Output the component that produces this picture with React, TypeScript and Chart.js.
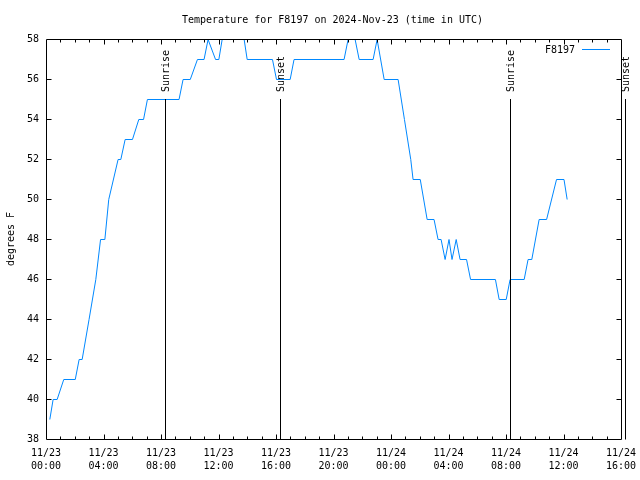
import React, { useEffect, useRef } from 'react';
import { Chart, registerables } from 'chart.js';

Chart.register(...registerables);

const TITLE = 'Temperature for F8197 on 2024-Nov-23 (time in UTC)';
const SERIES_LABEL = 'F8197';
const Y_TITLE = 'degrees F';
const FONT = '"DejaVu Sans Mono", "Liberation Mono", monospace';
const LINE_COLOR = 'rgb(0,136,255)';

// hours since 11/23 00:00 UTC
const hours = [
  0.23, 0.46, 0.74, 1.2, 2.0, 2.27, 2.48, 2.96, 3.43, 3.76, 4.06, 4.33, 4.98, 5.17,
  5.47, 5.98, 6.42, 6.75, 7.02, 9.22, 9.5, 10.0, 10.5, 10.96, 11.24, 11.76, 11.99,
  12.22, 12.5, 13.5, 13.75, 13.96, 15.72, 16.0, 16.95, 17.22, 20.7, 20.98, 21.22,
  21.47, 21.75, 22.72, 23.0, 23.49, 24.46, 24.9, 25.34, 25.5, 26.0, 26.48, 26.96,
  27.24, 27.45, 27.73, 28.0, 28.21, 28.5, 28.77, 29.22, 29.5, 31.23, 31.49, 31.98,
  32.25, 33.23, 33.5, 33.76, 34.27, 34.79, 35.48, 36.0, 36.22,
];
const tempF = [
  39, 40, 40, 41, 41, 42, 42, 44, 46, 48, 48, 50, 52, 52,
  53, 53, 54, 54, 55, 55, 56, 56, 57, 57, 58, 57, 57,
  58, 59, 59, 58, 57, 57, 56, 56, 57, 57, 58, 59,
  58, 57, 57, 58, 56, 56, 54, 52, 51, 51, 49, 49,
  48, 48, 47, 48, 47, 48, 47, 47, 46, 46, 45, 45,
  46, 46, 47, 47, 49, 49, 51, 51, 50,
];

const xTickDates = ['11/23', '11/23', '11/23', '11/23', '11/23', '11/23', '11/24', '11/24', '11/24', '11/24', '11/24'];
const xTickTimes = ['00:00', '04:00', '08:00', '12:00', '16:00', '20:00', '00:00', '04:00', '08:00', '12:00', '16:00'];

const eventHours = [8.27, 16.27, 32.27, 40.27];
const eventLabels = ['Sunrise', 'Sunset', 'Sunrise', 'Sunset'];
const eventTopValue = 55;

const gnuplotDecor = {
  id: 'gnuplotDecor',
  afterLayout(chart: any) {
    if (chart.titleBlock) {
      chart.titleBlock.left = 0;
      chart.titleBlock.right = 665;
    }
  },
  beforeDatasetsDraw(chart: any) {
    chart.ctx.save();
    chart.ctx.translate(0.5, 0.5);
  },
  afterDatasetsDraw(chart: any) {
    chart.ctx.restore();
  },
  afterDraw(chart: any) {
    const { ctx, chartArea, scales } = chart;
    const x = scales.x;
    const y = scales.y;
    const L = Math.floor(chartArea.left) + 0.5;
    const R = Math.floor(chartArea.right) + 0.5;
    const T = Math.floor(chartArea.top) + 0.5;
    const B = Math.floor(chartArea.bottom) + 0.5;
    ctx.save();
    ctx.strokeStyle = '#000';
    ctx.lineWidth = 1;
    ctx.beginPath();
    ctx.rect(L, T, R - L, B - T);
    for (let h = 1; h < 40; h++) {
      const px = Math.round(x.getPixelForValue(h)) + 0.5;
      const len = h % 4 === 0 ? 5 : 3;
      ctx.moveTo(px, B);
      ctx.lineTo(px, B - len);
      ctx.moveTo(px, T);
      ctx.lineTo(px, T + len);
    }
    for (let v = 40; v < 58; v += 2) {
      const py = Math.round(y.getPixelForValue(v)) + 0.5;
      ctx.moveTo(L, py);
      ctx.lineTo(L + 5, py);
      ctx.moveTo(R, py);
      ctx.lineTo(R - 5, py);
    }
    ctx.stroke();

    const yTop = Math.round(y.getPixelForValue(eventTopValue));
    ctx.fillStyle = '#000';
    ctx.font = `10px ${FONT}`;
    eventHours.forEach((h, i) => {
      const px = Math.round(x.getPixelForValue(h)) + 0.5;
      ctx.beginPath();
      ctx.moveTo(px, yTop);
      ctx.lineTo(px, B);
      ctx.stroke();
      ctx.save();
      ctx.translate(px + 1, yTop - 7);
      ctx.rotate(-Math.PI / 2);
      ctx.textAlign = 'left';
      ctx.textBaseline = 'middle';
      ctx.fillText(eventLabels[i], 0, 0);
      ctx.restore();
    });

    const ds = chart.data.datasets[0];
    ctx.textAlign = 'right';
    ctx.textBaseline = 'middle';
    ctx.fillText(ds.label, 575, 50);
    ctx.strokeStyle = ds.borderColor;
    ctx.beginPath();
    ctx.moveTo(582, 49.5);
    ctx.lineTo(610, 49.5);
    ctx.stroke();
    ctx.restore();
  },
};

export default function App() {
  const ref = useRef<HTMLCanvasElement | null>(null);
  useEffect(() => {
    document.body.style.margin = '0';
    const canvas = ref.current;
    if (!canvas) return;
    const chart = new Chart(canvas, {
      type: 'line',
      data: {
        datasets: [
          {
            label: SERIES_LABEL,
            data: hours.map((h, i) => ({ x: h, y: tempF[i] })),
            borderColor: LINE_COLOR,
            backgroundColor: LINE_COLOR,
            borderWidth: 1,
            pointRadius: 0,
            tension: 0,
            fill: false,
          },
        ],
      },
      options: {
        animation: false,
        responsive: false,
        devicePixelRatio: 1,
        layout: { padding: { left: 0, right: 19, top: 0, bottom: 0 } },
        plugins: {
          legend: { display: false },
          tooltip: { enabled: false },
          title: {
            display: true,
            text: TITLE,
            color: '#000',
            font: { family: FONT, size: 10, weight: 'normal', lineHeight: 1.2 },
            padding: { top: 14, bottom: 13 },
          },
        },
        scales: {
          x: {
            type: 'linear',
            min: 0,
            max: 40,
            grid: { display: false, drawTicks: false },
            border: { display: false },
            ticks: {
              stepSize: 4,
              autoSkip: false,
              maxRotation: 0,
              minRotation: 0,
              padding: 8,
              color: '#000',
              font: { family: FONT, size: 10, lineHeight: 1.3 },
              callback: (value: any) => {
                const i = Math.round(Number(value) / 4);
                return [xTickDates[i], xTickTimes[i]];
              },
            },
            afterFit: (scale: any) => {
              scale.height = 41;
              scale.paddingLeft = 0;
              scale.paddingRight = 0;
            },
          },
          y: {
            min: 38,
            max: 58,
            grid: { display: false, drawTicks: false },
            border: { display: false },
            ticks: {
              stepSize: 2,
              padding: 7,
              color: '#000',
              font: { family: FONT, size: 10 },
            },
            title: {
              display: true,
              text: Y_TITLE,
              color: '#000',
              font: { family: FONT, size: 10, lineHeight: 1.2 },
              padding: { top: 5, bottom: 0 },
            },
            afterFit: (scale: any) => {
              scale.width = 46;
              scale.paddingTop = 0;
              scale.paddingBottom = 0;
            },
          },
        },
      },
      plugins: [gnuplotDecor],
    });
    return () => chart.destroy();
  }, []);
  return (
    <div style={{ width: 640, height: 480 }}>
      <canvas ref={ref} width={640} height={480} style={{ display: 'block', width: 640, height: 480 }} />
    </div>
  );
}
